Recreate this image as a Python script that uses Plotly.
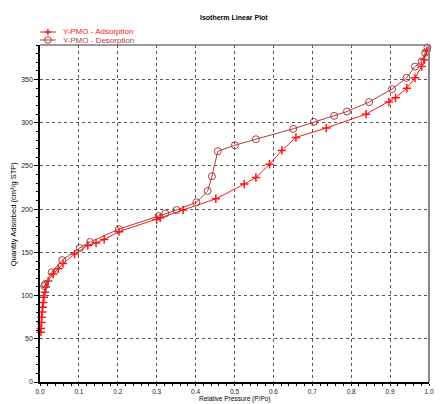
import plotly.graph_objects as go

# Adsorption branch (relative pressure, quantity adsorbed)
ads_p = [0.0025, 0.0025, 0.004, 0.004, 0.0058, 0.0068, 0.0084, 0.010, 0.0127, 0.015, 0.021,
         0.034, 0.047, 0.059, 0.089, 0.123, 0.144, 0.165, 0.203, 0.300, 0.309, 0.368, 0.452,
         0.525, 0.555, 0.590, 0.622, 0.658, 0.736, 0.838, 0.897, 0.914, 0.943, 0.964, 0.981,
         0.988, 0.994]
ads_q = [57.7, 62, 69, 75, 81, 86.5, 92, 98, 104, 110, 117,
         125, 131, 137, 148, 158, 161, 165, 174, 188, 190, 199, 212,
         229, 236.6, 252, 268, 283, 294, 310, 324, 329, 340, 352, 365,
         373, 383]

# Desorption branch
des_p = [0.996, 0.990, 0.981, 0.964, 0.942, 0.905, 0.846, 0.789, 0.756, 0.704, 0.651,
         0.555, 0.501, 0.457, 0.442, 0.431, 0.402, 0.351, 0.322, 0.305, 0.203, 0.129,
         0.102, 0.057, 0.030, 0.013, 0.011]
des_q = [387, 381, 371, 365, 352, 339, 324, 313, 308, 301, 293,
         281, 274, 267, 238, 221, 208, 199, 195, 192, 177, 162,
         155, 141, 127, 113, 111]

ads_name = "Y-PMO - Adsorption"
des_name = "Y-PMO - Desorption"
title_text = "Isotherm Linear Plot"
x_title = "Relative Pressure (P/Po)"
y_title = "Quantity Adsorbed (cm³/g STP)"

ADS_C = "#ff1414"
DES_C = "#b23a3c"
FONT = "Liberation Sans, Arial, sans-serif"

fig = go.Figure()
fig.add_trace(go.Scatter(x=ads_p, y=ads_q, mode="lines+markers", name=ads_name,
                         line=dict(color=ADS_C, width=1),
                         marker=dict(symbol="cross-thin", size=6, line=dict(color=ADS_C, width=1.5)),
                         cliponaxis=False))
fig.add_trace(go.Scatter(x=des_p, y=des_q, mode="lines+markers", name=des_name,
                         line=dict(color=DES_C, width=1),
                         marker=dict(symbol="circle-open", size=7, color=DES_C, line=dict(color=DES_C, width=1)),
                         cliponaxis=False))

axis_common = dict(showline=True, linecolor="#000", linewidth=1.5, mirror=False,
                   ticks="outside", tickcolor="#000", tickwidth=1,
                   showgrid=True, gridcolor="#555", griddash="dot", gridwidth=1,
                   zeroline=False)

fig.update_xaxes(range=[0, 1.0], dtick=0.1, tick0=0, tickformat=".1f", ticklen=2,
                 tickfont=dict(size=6.5, family=FONT, color="#222"),
                 minor=dict(dtick=0.02, ticklen=2, ticks="outside", tickcolor="#000", showgrid=False),
                 **axis_common)
fig.update_yaxes(range=[0, 390], dtick=50, tick0=0, ticklen=4,
                 tickfont=dict(size=7, family=FONT, color="#222"),
                 minor=dict(dtick=10, ticklen=2, ticks="outside", tickcolor="#000", showgrid=False),
                 **axis_common)

# plot area frame (top and right in grey)
shapes = [
    dict(type="line", xref="paper", yref="paper", x0=0, x1=1, y0=1, y1=1, line=dict(color="#777", width=1.5)),
    dict(type="line", xref="paper", yref="paper", x0=1, x1=1, y0=0, y1=1, line=dict(color="#888", width=2)),
]

ML, MR, MT, MB = 40, 6, 45, 22
W, H = 440.0 - ML - MR, 404.0 - MT - MB
def px(xp):
    return (xp - ML) / W
def py(yp):
    return (404.0 - MB - yp) / H

# custom compact legend
for yy, col in [(32, ADS_C), (40, DES_C)]:
    shapes.append(dict(type="line", xref="paper", yref="paper", x0=px(40), x1=px(56),
                       y0=py(yy), y1=py(yy), line=dict(color=col, width=1)))
# plus marker for adsorption
shapes.append(dict(type="line", xref="paper", yref="paper", x0=px(48), x1=px(48),
                   y0=py(29), y1=py(35), line=dict(color=ADS_C, width=1.5)))
shapes.append(dict(type="line", xref="paper", yref="paper", x0=px(45), x1=px(51),
                   y0=py(32), y1=py(32), line=dict(color=ADS_C, width=1.5)))
# circle marker for desorption
shapes.append(dict(type="circle", xref="paper", yref="paper", x0=px(44.7), x1=px(51.3),
                   y0=py(43.3), y1=py(36.7), line=dict(color=DES_C, width=1)))

annotations = [
    dict(text=ads_name, xref="paper", yref="paper", x=px(61), y=py(32), xanchor="left", yanchor="middle",
         showarrow=False, font=dict(size=8, family=FONT, color=ADS_C)),
    dict(text=des_name, xref="paper", yref="paper", x=px(61), y=py(40), xanchor="left", yanchor="middle",
         showarrow=False, font=dict(size=8, family=FONT, color=DES_C)),
    dict(text="<b>" + title_text + "</b>", xref="paper", yref="paper", x=px(236), y=py(17),
         xanchor="center", yanchor="middle", showarrow=False, font=dict(size=7, family=FONT, color="#000")),
    dict(text=x_title, xref="paper", yref="paper", x=px(237), y=py(404), xanchor="center", yanchor="bottom",
         borderpad=0, showarrow=False, font=dict(size=6.5, family=FONT, color="#000")),
    dict(text=y_title, xref="paper", yref="paper", x=px(13), y=py(214), xanchor="center", yanchor="middle",
         textangle=-90, showarrow=False, font=dict(size=7.5, family=FONT, color="#000")),
]

fig.update_layout(width=440, height=404, margin=dict(l=ML, r=MR, t=MT, b=MB),
                  paper_bgcolor="white", plot_bgcolor="white", showlegend=False,
                  shapes=shapes, annotations=annotations, font=dict(family=FONT))

fig.write_html("out.html", config={"displayModeBar": False},
               post_script="document.body.style.margin='0';document.body.style.overflow='hidden';")
